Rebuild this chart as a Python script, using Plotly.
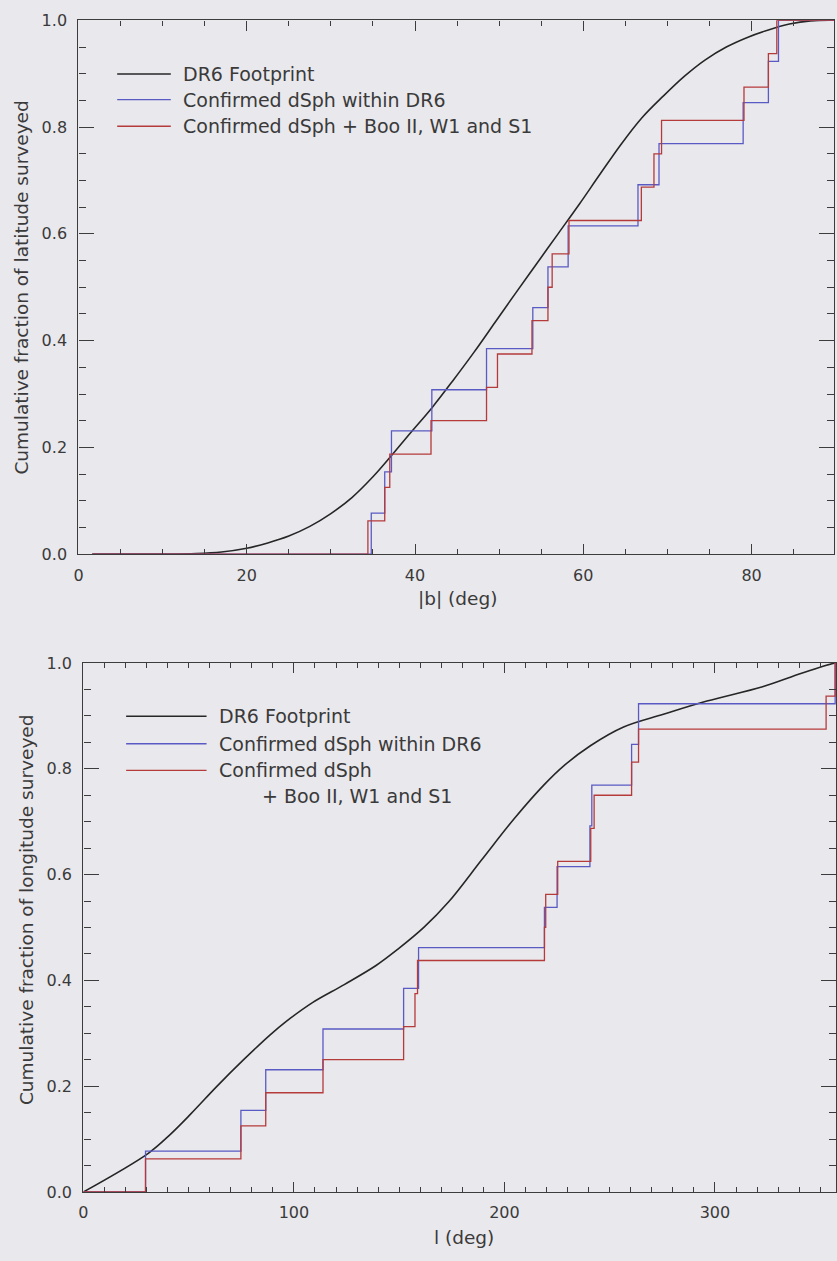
import plotly.graph_objects as go

# ---------------- data ----------------
# Top panel: cumulative fraction vs |b|
lat_dr6_deg = [1.65, 10.0, 14.0, 17.0, 20.0, 22.5, 25.0, 27.5, 30.0, 32.5, 35.0, 37.0, 39.5,
               42.0, 44.5, 47.0, 49.5, 52.0, 54.5, 57.0, 59.5, 62.0, 64.5, 67.0, 69.5,
               72.0, 74.5, 77.0, 79.5, 82.0, 84.5, 87.0, 90.0]
lat_dr6_frac = [0.0, 0.0, 0.001, 0.004, 0.011, 0.021, 0.034, 0.052, 0.076, 0.106, 0.145, 0.181, 0.228,
                0.274, 0.325, 0.378, 0.434, 0.49, 0.545, 0.60, 0.655, 0.712, 0.768, 0.818, 0.858,
                0.895, 0.926, 0.95, 0.968, 0.982, 0.993, 0.999, 1.0]

lat_conf_deg = [1.65, 34.8, 36.4, 37.2, 42.0, 48.5, 54.0, 55.8, 58.2, 66.5, 69.0, 79.0, 82.0, 83.2, 90.0]
lat_conf_frac = [0.0, 0.077, 0.154, 0.231, 0.308, 0.385, 0.462, 0.538, 0.615, 0.692, 0.769,
                 0.846, 0.923, 1.0, 1.0]

lat_all_deg = [1.65, 34.4, 36.4, 37.0, 41.9, 48.5, 49.8, 53.9, 55.8, 56.3, 58.3, 66.9, 68.4,
               69.3, 79.1, 82.0, 83.0, 90.0]
lat_all_frac = [0.0, 0.0625, 0.125, 0.1875, 0.25, 0.3125, 0.375, 0.4375, 0.5, 0.5625, 0.625,
                0.6875, 0.75, 0.8125, 0.875, 0.9375, 1.0, 1.0]

# Bottom panel: cumulative fraction vs l
lon_dr6_deg = [0.0, 30.8, 40.8, 50.9, 63.5, 76.1, 88.7, 96.2, 108.8, 123.9, 139.0, 149.1,
               161.7, 173.4, 189.2, 204.7, 218.9, 228.3, 241.0, 256.6, 275.5, 296.2,
               322.6, 341.5, 357.3, 360.0]
lon_dr6_frac = [0.0, 0.073, 0.107, 0.147, 0.200, 0.250, 0.297, 0.322, 0.358, 0.392, 0.428, 0.458,
                0.50, 0.548, 0.628, 0.706, 0.770, 0.806, 0.844, 0.879, 0.903, 0.928,
                0.955, 0.981, 1.0, 1.0]

lon_conf_deg = [0.0, 29.5, 74.8, 86.6, 113.8, 152.1, 159.2, 219.0, 225.0, 240.6, 241.5,
                260.4, 263.7, 357.1, 360.0]
lon_conf_frac = [0.0, 0.077, 0.154, 0.231, 0.308, 0.385, 0.462, 0.538, 0.615, 0.692, 0.769,
                 0.846, 0.923, 1.0, 1.0]

lon_all_deg = [0.0, 29.5, 74.8, 86.6, 113.8, 152.1, 157.5, 158.7, 219.0, 219.6, 225.3, 241.0,
               242.6, 260.4, 263.7, 352.8, 357.1, 360.0]
lon_all_frac = [0.0, 0.0625, 0.125, 0.1875, 0.25, 0.3125, 0.375, 0.4375, 0.5, 0.5625, 0.625,
                0.6875, 0.75, 0.8125, 0.875, 0.9375, 1.0, 1.0]

top_legend = ["DR6 Footprint", "Confirmed dSph within DR6", "Confirmed dSph + Boo II, W1 and S1"]
bot_legend = ["DR6 Footprint", "Confirmed dSph within DR6", "Confirmed dSph", "+ Boo II, W1 and S1"]

# ---------------- style ----------------
W, H = 837, 1261
BG = "#e9e8ed"
AX = "#3c3c3c"
TXT = "#3a3a3a"
BLACK = "#262626"
BLUE = "#5a5ac4"
RED = "#b53a3a"
FONT = "DejaVu Sans"
LEG_SIZE = 19

fig = go.Figure()

fig.add_trace(go.Scatter(x=lat_dr6_deg, y=lat_dr6_frac, mode="lines", line=dict(color=BLACK, width=1.6),
                         line_shape="spline", xaxis="x", yaxis="y", showlegend=False))
fig.add_trace(go.Scatter(x=lat_conf_deg, y=lat_conf_frac, mode="lines", line=dict(color=BLUE, width=1.3),
                         line_shape="hv", xaxis="x", yaxis="y", showlegend=False))
fig.add_trace(go.Scatter(x=lat_all_deg, y=lat_all_frac, mode="lines", line=dict(color=RED, width=1.3),
                         line_shape="hv", xaxis="x", yaxis="y", showlegend=False))

fig.add_trace(go.Scatter(x=lon_dr6_deg, y=lon_dr6_frac, mode="lines", line=dict(color=BLACK, width=1.6),
                         line_shape="spline", xaxis="x2", yaxis="y2", showlegend=False))
fig.add_trace(go.Scatter(x=lon_conf_deg, y=lon_conf_frac, mode="lines", line=dict(color=BLUE, width=1.3),
                         line_shape="hv", xaxis="x2", yaxis="y2", showlegend=False))
fig.add_trace(go.Scatter(x=lon_all_deg, y=lon_all_frac, mode="lines", line=dict(color=RED, width=1.3),
                         line_shape="hv", xaxis="x2", yaxis="y2", showlegend=False))


def xax(domain, rng, dtick, mdtick, anchor):
    return dict(domain=domain, range=rng, anchor=anchor, dtick=dtick, tick0=0,
                showline=True, linecolor=AX, linewidth=1.4, mirror="allticks",
                ticks="inside", ticklen=10, tickwidth=1.2, tickcolor=AX,
                showgrid=False, zeroline=False, ticklabelstandoff=6,
                tickfont=dict(family=FONT, size=16, color=TXT),
                minor=dict(dtick=mdtick, ticks="inside", ticklen=5, tickwidth=1.2, tickcolor=AX, showgrid=False))


def yax(domain, anchor):
    return dict(domain=domain, range=[0, 1], anchor=anchor, dtick=0.2, tick0=0, tickformat=".1f",
                showline=True, linecolor=AX, linewidth=1.4, mirror="allticks",
                ticks="inside", ticklen=15, tickwidth=1.2, tickcolor=AX,
                showgrid=False, zeroline=False, ticklabelstandoff=7,
                tickfont=dict(family=FONT, size=16, color=TXT),
                minor=dict(dtick=0.05, ticks="inside", ticklen=7, tickwidth=1.2, tickcolor=AX, showgrid=False))


top_y = [1 - 553.5 / H, 1 - 11.5 / H]
bot_y = [1 - 1201 / H, 1 - 664 / H]

fig.update_layout(
    width=W, height=H, margin=dict(l=0, r=0, t=0, b=0),
    paper_bgcolor=BG, plot_bgcolor=BG, showlegend=False,
    xaxis=xax([74 / W, 835 / W], [0, 89.8], 20, 5, "y"),
    yaxis=yax(top_y, "x"),
    xaxis2=xax([79 / W, 1.0], [0, 357.5], 100, 10, "y2"),
    yaxis2=yax(bot_y, "x2"),
)

ann = []
shapes = []


def px(xp):
    return xp / W


def py(yp):
    return 1 - yp / H


# axis titles
ann.append(dict(text="|b| (deg)", x=px(456), y=py(599), xref="paper", yref="paper", showarrow=False,
                font=dict(family=FONT, size=18.5, color=TXT), xanchor="center", yanchor="middle"))
ann.append(dict(text="l (deg)", x=px(462), y=py(1247), xref="paper", yref="paper", showarrow=False,
                font=dict(family=FONT, size=18.5, color=TXT), xanchor="center", yanchor="middle"))
ann.append(dict(text="Cumulative fraction of latitude surveyed", x=px(17), y=py(283), xref="paper",
                yref="paper", showarrow=False, textangle=-90,
                font=dict(family=FONT, size=18.5, color=TXT), xanchor="center", yanchor="middle"))
ann.append(dict(text="Cumulative fraction of longitude surveyed", x=px(21), y=py(914), xref="paper",
                yref="paper", showarrow=False, textangle=-90,
                font=dict(family=FONT, size=18.5, color=TXT), xanchor="center", yanchor="middle"))

# legends
top_rows = [66, 92, 119]
for label, yr, col in zip(top_legend, top_rows, [BLACK, BLUE, RED]):
    shapes.append(dict(type="line", xref="paper", yref="paper", x0=px(113), x1=px(167), y0=py(yr), y1=py(yr),
                       line=dict(color=col, width=1.4)))
    ann.append(dict(text=label, x=px(177), y=py(yr), xref="paper", yref="paper", showarrow=False,
                    font=dict(family=FONT, size=LEG_SIZE, color=TXT), xanchor="left", yanchor="middle"))

bot_rows = [718, 746, 773]
for label, yr, col in zip(bot_legend[:3], bot_rows, [BLACK, BLUE, RED]):
    shapes.append(dict(type="line", xref="paper", yref="paper", x0=px(122), x1=px(203), y0=py(yr), y1=py(yr),
                       line=dict(color=col, width=1.4)))
    ann.append(dict(text=label, x=px(214), y=py(yr), xref="paper", yref="paper", showarrow=False,
                    font=dict(family=FONT, size=LEG_SIZE, color=TXT), xanchor="left", yanchor="middle"))
ann.append(dict(text=bot_legend[3], x=px(257), y=py(799), xref="paper", yref="paper", showarrow=False,
                font=dict(family=FONT, size=LEG_SIZE, color=TXT), xanchor="left", yanchor="middle"))

fig.update_layout(annotations=ann, shapes=shapes)

fig.write_html("out.html")
